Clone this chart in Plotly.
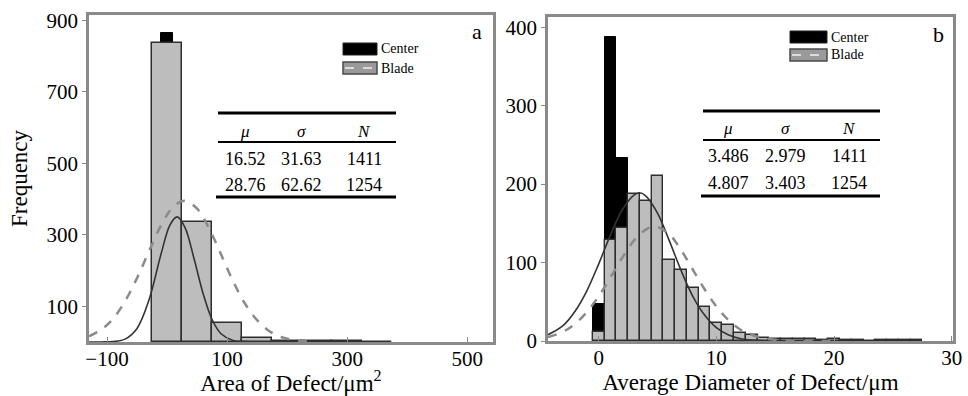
import plotly.graph_objects as go

# ---------------- data ----------------
# Panel a : area of defect (bin width 50)
a_bin_centers = [0, 50, 100, 150, 200, 250, 300, 350]
a_blade_counts = [836, 336, 53, 11, 4, 2, 2, 1]
a_center_x = [0]
a_center_counts = [864]
a_fit_center_x = [-130, -110, -90, -70, -50, -30, -10, 5, 17, 30, 45, 60, 75, 90, 110, 130, 160, 200]
a_fit_center_y = [0, 0.2, 1.2, 8, 38, 118, 246, 328, 350, 320, 233, 136, 63, 23, 4, 1, 0, 0]
a_fit_blade_x = [-130, -110, -90, -70, -50, -30, -10, 10, 29, 50, 70, 90, 110, 130, 150, 170, 190, 210, 240]
a_fit_blade_y = [16, 34, 65, 114, 179, 254, 326, 378, 395, 373, 318, 245, 170, 107, 61, 31, 14, 6, 1]

# Panel b : average diameter of defect (bin width 1)
b_bin_centers = list(range(0, 28))
b_blade_counts = [12, 129, 144, 188, 179, 210, 103, 90, 67, 43, 23, 20, 10, 8, 4, 3, 2, 2, 2, 1, 2, 1, 1, 0, 1, 1, 1, 1]
b_center_x = [0, 1, 2]
b_center_counts = [47, 387, 233]
b_fit_center_x = [-4.3, -3, -2, -1, 0, 1, 2, 3, 3.5, 4, 5, 6, 7, 8, 9, 10, 11, 12, 13, 14, 16, 20]
b_fit_center_y = [8, 20, 38, 64, 98, 135, 167, 186, 189, 185, 163, 128, 90, 57, 33, 17, 8, 3.2, 1.2, 0.4, 0, 0]
b_fit_blade_x = [-4.3, -3, -2, -1, 0, 1, 2, 3, 4, 4.8, 6, 7, 8, 9, 10, 11, 12, 13, 14, 15, 16, 17, 20]
b_fit_blade_y = [5, 12, 22, 37, 57, 81, 106, 128, 142, 146, 136, 116, 91, 66, 44, 27, 15, 8, 3.8, 1.7, 0.7, 0.2, 0]

# Tables
table_header = ["<i>μ</i>", "<i>σ</i>", "<i>N</i>"]
a_table_rows = [["16.52", "31.63", "1411"], ["28.76", "62.62", "1254"]]
b_table_rows = [["3.486", "2.979", "1411"], ["4.807", "3.403", "1254"]]

a_xticks = [-100, 100, 300, 500]
a_yticks = [100, 300, 500, 700, 900]
b_xticks = [0, 10, 20, 30]
b_yticks = [0, 100, 200, 300, 400]

# ---------------- styling ----------------
W, H = 968, 396
FONT = "Liberation Serif"
GRAY_BAR = "#bdbdbd"
EDGE = "#2e2e2e"
FRAME = "#8a8a8a"
TICK_SIZE = 21
TITLE_SIZE = 23


def px(x):
    return x / W


def py(y):
    return 1 - y / H


fig = go.Figure()

# panel a
fig.add_trace(go.Bar(x=a_center_x, y=a_center_counts, width=20, marker=dict(color="black", line=dict(color="black", width=1)),
                     xaxis="x", yaxis="y", showlegend=False))
fig.add_trace(go.Bar(x=a_bin_centers, y=a_blade_counts, width=50, marker=dict(color=GRAY_BAR, line=dict(color=EDGE, width=1.5)),
                     xaxis="x", yaxis="y", showlegend=False))
fig.add_trace(go.Scatter(x=a_fit_center_x, y=a_fit_center_y, mode="lines", line=dict(color="#333333", width=1.6, shape="spline"),
                         xaxis="x", yaxis="y", showlegend=False))
fig.add_trace(go.Scatter(x=a_fit_blade_x, y=a_fit_blade_y, mode="lines", line=dict(color="#8a8a8a", width=2.5, dash="dash", shape="spline"),
                         xaxis="x", yaxis="y", showlegend=False))

# panel b
fig.add_trace(go.Bar(x=b_center_x, y=b_center_counts, width=1, marker=dict(color="black", line=dict(color="black", width=1)),
                     xaxis="x2", yaxis="y2", showlegend=False))
fig.add_trace(go.Bar(x=b_bin_centers, y=b_blade_counts, width=1, marker=dict(color=GRAY_BAR, line=dict(color=EDGE, width=1.4)),
                     xaxis="x2", yaxis="y2", showlegend=False))
fig.add_trace(go.Scatter(x=b_fit_center_x, y=b_fit_center_y, mode="lines", line=dict(color="#333333", width=1.6, shape="spline"),
                         xaxis="x2", yaxis="y2", showlegend=False))
fig.add_trace(go.Scatter(x=b_fit_blade_x, y=b_fit_blade_y, mode="lines", line=dict(color="#8a8a8a", width=2.5, dash="dash", shape="spline"),
                         xaxis="x2", yaxis="y2", showlegend=False))

axis_common = dict(showline=True, mirror=True, linecolor=FRAME, linewidth=2.5, showgrid=False, zeroline=False,
                   automargin=False, tickfont=dict(family=FONT, size=TICK_SIZE, color="black"), tickcolor=FRAME)

fig.update_layout(
    width=W, height=H, margin=dict(l=0, r=0, t=0, b=0, autoexpand=False),
    paper_bgcolor="white", plot_bgcolor="white",
    barmode="overlay", bargap=0,
    font=dict(family=FONT, color="black"),
    xaxis=dict(domain=[px(89), px(493)], range=[-130, 543], tickvals=a_xticks, ticktext=["\u2212100", "100", "300", "500"],
               ticks="inside", ticklen=5, anchor="y", ticklabelstandoff=-4,
               title=dict(text="Area of Defect/μm<sup>2</sup>", font=dict(family=FONT, size=TITLE_SIZE), standoff=2), **axis_common),
    yaxis=dict(domain=[py(342), py(15)], range=[0, 915], tickvals=a_yticks, ticks="outside", ticklen=4, anchor="x",
               title=dict(text="Frequency", font=dict(family=FONT, size=TITLE_SIZE), standoff=13), **axis_common),
    xaxis2=dict(domain=[px(548), px(953)], range=[-4.3, 30.1], tickvals=b_xticks, ticks="inside", ticklen=5, anchor="y2",
                ticklabelstandoff=-4,
                title=dict(text="Average Diameter of Defect/μm", font=dict(family=FONT, size=TITLE_SIZE), standoff=1), **axis_common),
    yaxis2=dict(domain=[py(341), py(17)], range=[0, 413], tickvals=b_yticks, ticks="outside", ticklen=4, anchor="x2",
                **axis_common),
)

shapes = []
annotations = []


def add_table(x0, x1, y_top, y_mid, y_bot, y_head, y_rows, cols, rows):
    shapes.append(dict(type="line", xref="paper", yref="paper", x0=px(x0), x1=px(x1), y0=py(y_top), y1=py(y_top),
                       line=dict(color="black", width=3)))
    shapes.append(dict(type="line", xref="paper", yref="paper", x0=px(x0), x1=px(x1), y0=py(y_mid), y1=py(y_mid),
                       line=dict(color="black", width=1.8)))
    shapes.append(dict(type="line", xref="paper", yref="paper", x0=px(x0 - 2), x1=px(x1), y0=py(y_bot), y1=py(y_bot),
                       line=dict(color="black", width=3)))
    for cx, h in zip(cols, table_header):
        annotations.append(dict(xref="paper", yref="paper", x=px(cx), y=py(y_head), text=h, showarrow=False,
                                font=dict(family=FONT, size=17, color="black"), xanchor="center", yanchor="middle"))
    for ry, row in zip(y_rows, rows):
        for cx, v in zip(cols, row):
            annotations.append(dict(xref="paper", yref="paper", x=px(cx), y=py(ry), text=v, showarrow=False,
                                    font=dict(family=FONT, size=18, color="black"), xanchor="center", yanchor="middle"))


add_table(218, 396, 113, 142, 197, 131, [159, 185], [245, 301, 364], a_table_rows)
add_table(703, 880, 111, 140, 196, 129, [156, 183], [728, 785, 849], b_table_rows)


def add_legend(x0, x1, yc1, yc2, h):
    shapes.append(dict(type="rect", xref="paper", yref="paper", x0=px(x0), x1=px(x1), y0=py(yc1 + h / 2), y1=py(yc1 - h / 2),
                       fillcolor="black", line=dict(color="#222", width=1)))
    shapes.append(dict(type="rect", xref="paper", yref="paper", x0=px(x0), x1=px(x1), y0=py(yc2 + h / 2), y1=py(yc2 - h / 2),
                       fillcolor="#9a9a9a", line=dict(color="#4a4a4a", width=1.5)))
    shapes.append(dict(type="line", xref="paper", yref="paper", x0=px(x0 + 2), x1=px(x1 - 2), y0=py(yc2), y1=py(yc2),
                       line=dict(color="#dcdcdc", width=2, dash="dash")))
    for yc, t in ((yc1, "Center"), (yc2, "Blade")):
        annotations.append(dict(xref="paper", yref="paper", x=px(x1 + 2), y=py(yc), text=t, showarrow=False,
                                font=dict(family=FONT, size=14, color="black"), xanchor="left", yanchor="middle"))


add_legend(343, 377, 49, 68, 12)
add_legend(790, 827, 37, 55, 12)

annotations.append(dict(xref="paper", yref="paper", x=px(477), y=py(32), text="a", showarrow=False,
                        font=dict(family=FONT, size=22, color="black"), xanchor="center", yanchor="middle"))
annotations.append(dict(xref="paper", yref="paper", x=px(938), y=py(34), text="b", showarrow=False,
                        font=dict(family=FONT, size=22, color="black"), xanchor="center", yanchor="middle"))

fig.update_layout(shapes=shapes, annotations=annotations)

# remove the default page margin so the figure sits at the window's top-left corner
fig.write_html("out.html", config={"displayModeBar": False},
               post_script="document.body.style.margin='0';document.body.style.overflow='hidden';")
